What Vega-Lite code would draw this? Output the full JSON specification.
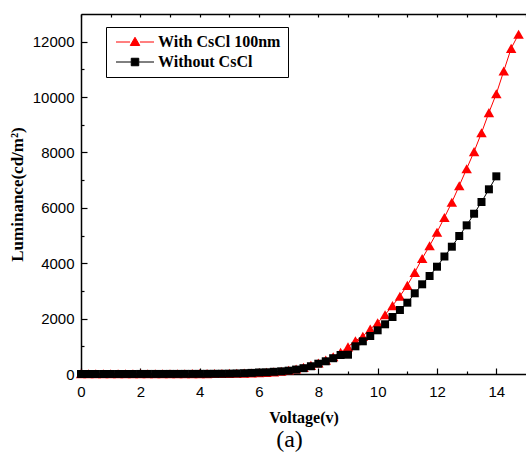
{
  "$schema": "https://vega.github.io/schema/vega-lite/v6.json",
  "width": 445,
  "height": 360,
  "autosize": {"type": "none"},
  "padding": {"left": 81, "top": 14, "right": 0, "bottom": 84},
  "background": "white",
  "config": {
    "view": {"stroke": null},
    "axis": {"domainColor": "black", "tickColor": "black", "domainWidth": 1.5, "tickWidth": 1.2, "labelFont": "Liberation Sans", "labelFontSize": 15, "labelColor": "black", "labelFlush": false, "format": "d", "grid": false, "titleFont": "Liberation Serif", "titleFontWeight": "bold", "titleColor": "black"},
    "legend": {"orient": "none", "legendX": 25, "legendY": 13, "padding": 7, "strokeColor": "black", "fillColor": "white",
      "labelFont": "Liberation Serif", "labelFontWeight": "bold", "labelFontSize": 16, "labelColor": "black", "labelOffset": 15,
      "symbolSize": 100, "symbolOffset": 14, "rowPadding": 4, "symbolOpacity": 1, "symbolStrokeWidth": 1}
  },
  "title": {"text": "(a)", "orient": "bottom", "font": "Liberation Serif", "fontSize": 24, "fontWeight": "normal", "color": "black", "offset": 3, "dx": -14},
  "data": {"values": [
    {"v": 0.0, "L": 10, "s": "With CsCl 100nm"}, {"v": 0.25, "L": 10, "s": "With CsCl 100nm"}, {"v": 0.5, "L": 10, "s": "With CsCl 100nm"}, {"v": 0.75, "L": 10, "s": "With CsCl 100nm"},
    {"v": 1.0, "L": 10, "s": "With CsCl 100nm"}, {"v": 1.25, "L": 10, "s": "With CsCl 100nm"}, {"v": 1.5, "L": 10, "s": "With CsCl 100nm"}, {"v": 1.75, "L": 10, "s": "With CsCl 100nm"},
    {"v": 2.0, "L": 11, "s": "With CsCl 100nm"}, {"v": 2.25, "L": 11, "s": "With CsCl 100nm"}, {"v": 2.5, "L": 11, "s": "With CsCl 100nm"}, {"v": 2.75, "L": 11, "s": "With CsCl 100nm"},
    {"v": 3.0, "L": 12, "s": "With CsCl 100nm"}, {"v": 3.25, "L": 12, "s": "With CsCl 100nm"}, {"v": 3.5, "L": 12, "s": "With CsCl 100nm"}, {"v": 3.75, "L": 13, "s": "With CsCl 100nm"},
    {"v": 4.0, "L": 14, "s": "With CsCl 100nm"}, {"v": 4.25, "L": 15, "s": "With CsCl 100nm"}, {"v": 4.5, "L": 17, "s": "With CsCl 100nm"}, {"v": 4.75, "L": 19, "s": "With CsCl 100nm"},
    {"v": 5.0, "L": 22, "s": "With CsCl 100nm"}, {"v": 5.25, "L": 26, "s": "With CsCl 100nm"}, {"v": 5.5, "L": 31, "s": "With CsCl 100nm"}, {"v": 5.75, "L": 38, "s": "With CsCl 100nm"},
    {"v": 6.0, "L": 48, "s": "With CsCl 100nm"}, {"v": 6.25, "L": 60, "s": "With CsCl 100nm"}, {"v": 6.5, "L": 78, "s": "With CsCl 100nm"}, {"v": 6.75, "L": 100, "s": "With CsCl 100nm"},
    {"v": 7.0, "L": 135, "s": "With CsCl 100nm"}, {"v": 7.25, "L": 180, "s": "With CsCl 100nm"}, {"v": 7.5, "L": 240, "s": "With CsCl 100nm"}, {"v": 7.75, "L": 310, "s": "With CsCl 100nm"},
    {"v": 8.0, "L": 400, "s": "With CsCl 100nm"}, {"v": 8.25, "L": 500, "s": "With CsCl 100nm"}, {"v": 8.5, "L": 620, "s": "With CsCl 100nm"}, {"v": 8.75, "L": 780, "s": "With CsCl 100nm"},
    {"v": 9.0, "L": 980, "s": "With CsCl 100nm"}, {"v": 9.25, "L": 1200, "s": "With CsCl 100nm"}, {"v": 9.5, "L": 1360, "s": "With CsCl 100nm"}, {"v": 9.75, "L": 1620, "s": "With CsCl 100nm"},
    {"v": 10.0, "L": 1850, "s": "With CsCl 100nm"}, {"v": 10.25, "L": 2140, "s": "With CsCl 100nm"}, {"v": 10.5, "L": 2470, "s": "With CsCl 100nm"}, {"v": 10.75, "L": 2810, "s": "With CsCl 100nm"},
    {"v": 11.0, "L": 3200, "s": "With CsCl 100nm"}, {"v": 11.25, "L": 3670, "s": "With CsCl 100nm"}, {"v": 11.5, "L": 4170, "s": "With CsCl 100nm"}, {"v": 11.75, "L": 4630, "s": "With CsCl 100nm"},
    {"v": 12.0, "L": 5120, "s": "With CsCl 100nm"}, {"v": 12.25, "L": 5650, "s": "With CsCl 100nm"}, {"v": 12.5, "L": 6200, "s": "With CsCl 100nm"}, {"v": 12.75, "L": 6800, "s": "With CsCl 100nm"},
    {"v": 13.0, "L": 7410, "s": "With CsCl 100nm"}, {"v": 13.25, "L": 8030, "s": "With CsCl 100nm"}, {"v": 13.5, "L": 8710, "s": "With CsCl 100nm"}, {"v": 13.75, "L": 9440, "s": "With CsCl 100nm"},
    {"v": 14.0, "L": 10120, "s": "With CsCl 100nm"}, {"v": 14.25, "L": 10940, "s": "With CsCl 100nm"}, {"v": 14.5, "L": 11760, "s": "With CsCl 100nm"}, {"v": 14.75, "L": 12270, "s": "With CsCl 100nm"},
    {"v": 0.0, "L": 0, "s": "Without CsCl"}, {"v": 0.25, "L": 0, "s": "Without CsCl"}, {"v": 0.5, "L": 0, "s": "Without CsCl"}, {"v": 0.75, "L": 0, "s": "Without CsCl"},
    {"v": 1.0, "L": 1, "s": "Without CsCl"}, {"v": 1.25, "L": 1, "s": "Without CsCl"}, {"v": 1.5, "L": 1, "s": "Without CsCl"}, {"v": 1.75, "L": 1, "s": "Without CsCl"},
    {"v": 2.0, "L": 2, "s": "Without CsCl"}, {"v": 2.25, "L": 2, "s": "Without CsCl"}, {"v": 2.5, "L": 2, "s": "Without CsCl"}, {"v": 2.75, "L": 2, "s": "Without CsCl"},
    {"v": 3.0, "L": 3, "s": "Without CsCl"}, {"v": 3.25, "L": 3, "s": "Without CsCl"}, {"v": 3.5, "L": 4, "s": "Without CsCl"}, {"v": 3.75, "L": 4, "s": "Without CsCl"},
    {"v": 4.0, "L": 5, "s": "Without CsCl"}, {"v": 4.25, "L": 6, "s": "Without CsCl"}, {"v": 4.5, "L": 8, "s": "Without CsCl"}, {"v": 4.75, "L": 10, "s": "Without CsCl"},
    {"v": 5.0, "L": 14, "s": "Without CsCl"}, {"v": 5.25, "L": 20, "s": "Without CsCl"}, {"v": 5.5, "L": 30, "s": "Without CsCl"}, {"v": 5.75, "L": 40, "s": "Without CsCl"},
    {"v": 6.0, "L": 55, "s": "Without CsCl"}, {"v": 6.25, "L": 62, "s": "Without CsCl"}, {"v": 6.5, "L": 80, "s": "Without CsCl"}, {"v": 6.75, "L": 97, "s": "Without CsCl"},
    {"v": 7.0, "L": 120, "s": "Without CsCl"}, {"v": 7.25, "L": 160, "s": "Without CsCl"}, {"v": 7.5, "L": 210, "s": "Without CsCl"}, {"v": 7.75, "L": 280, "s": "Without CsCl"},
    {"v": 8.0, "L": 372, "s": "Without CsCl"}, {"v": 8.25, "L": 459, "s": "Without CsCl"}, {"v": 8.5, "L": 570, "s": "Without CsCl"}, {"v": 8.75, "L": 686, "s": "Without CsCl"},
    {"v": 9.0, "L": 697, "s": "Without CsCl"}, {"v": 9.25, "L": 1000, "s": "Without CsCl"}, {"v": 9.5, "L": 1181, "s": "Without CsCl"}, {"v": 9.75, "L": 1372, "s": "Without CsCl"},
    {"v": 10.0, "L": 1578, "s": "Without CsCl"}, {"v": 10.25, "L": 1795, "s": "Without CsCl"}, {"v": 10.5, "L": 2058, "s": "Without CsCl"}, {"v": 10.75, "L": 2311, "s": "Without CsCl"},
    {"v": 11.0, "L": 2575, "s": "Without CsCl"}, {"v": 11.25, "L": 2914, "s": "Without CsCl"}, {"v": 11.5, "L": 3239, "s": "Without CsCl"}, {"v": 11.75, "L": 3539, "s": "Without CsCl"},
    {"v": 12.0, "L": 3875, "s": "Without CsCl"}, {"v": 12.25, "L": 4243, "s": "Without CsCl"}, {"v": 12.5, "L": 4597, "s": "Without CsCl"}, {"v": 12.75, "L": 4983, "s": "Without CsCl"},
    {"v": 13.0, "L": 5369, "s": "Without CsCl"}, {"v": 13.25, "L": 5788, "s": "Without CsCl"}, {"v": 13.5, "L": 6211, "s": "Without CsCl"}, {"v": 13.75, "L": 6669, "s": "Without CsCl"},
    {"v": 14.0, "L": 7138, "s": "Without CsCl"}
  ]},
  "layer": [
    {
      "mark": {"type": "line", "strokeWidth": 1},
      "encoding": {
        "x": {"field": "v", "type": "quantitative", "scale": {"domain": [0, 15], "nice": false},
          "axis": {"orient": "bottom", "values": [0, 2, 4, 6, 8, 10, 12, 14], "tickSize": -6, "labelPadding": 16, "title": "Voltage(v)", "titleFontSize": 16, "titlePadding": 10}},
        "y": {"field": "L", "type": "quantitative", "scale": {"domain": [0, 13000], "nice": false},
          "axis": {"orient": "left", "values": [0, 2000, 4000, 6000, 8000, 10000, 12000], "tickSize": -6, "labelPadding": 13, "title": "Luminance(cd/m²)", "titleFontSize": 17, "titlePadding": 6}},
        "color": {"field": "s", "type": "nominal", "scale": {"domain": ["With CsCl 100nm", "Without CsCl"], "range": ["#ff0000", "#000000"]}, "legend": null},
        "detail": {"field": "s"}
      }
    },
    {
      "mark": {"type": "point", "filled": true, "opacity": 1},
      "encoding": {
        "x": {"field": "v", "type": "quantitative",
          "axis": {"orient": "bottom", "values": [1, 3, 5, 7, 9, 11, 13], "tickSize": -3, "labels": false, "domain": false, "title": null}},
        "y": {"field": "L", "type": "quantitative",
          "axis": {"orient": "left", "values": [1000, 3000, 5000, 7000, 9000, 11000], "tickSize": -3, "labels": false, "domain": false, "title": null}},
        "color": {"field": "s", "type": "nominal", "scale": {"domain": ["With CsCl 100nm", "Without CsCl"], "range": ["#ff0000", "#000000"]}, "legend": null},
        "shape": {"field": "s", "type": "nominal", "scale": {"domain": ["With CsCl 100nm", "Without CsCl"], "range": ["triangle-up", "square"]}, "legend": null},
        "size": {"field": "s", "type": "nominal", "scale": {"domain": ["With CsCl 100nm", "Without CsCl"], "range": [110, 64]}, "legend": null}
      }
    },
    {
      "transform": [{"filter": "datum.v > 100"}],
      "mark": {"type": "point", "filled": true, "opacity": 1},
      "encoding": {
        "x": {"field": "v", "type": "quantitative",
          "axis": {"orient": "top", "values": [0, 1, 2, 3, 4, 5, 6, 7, 8, 9, 10, 11, 12, 13, 14, 15], "tickSize": -3, "labels": false, "title": null}},
        "y": {"field": "L", "type": "quantitative", "axis": null},
        "color": {"field": "s", "type": "nominal", "scale": {"domain": ["With CsCl 100nm", "Without CsCl"], "range": ["#ff0000", "#000000"]}, "legend": {"title": null}},
        "stroke": {"field": "s", "type": "nominal", "scale": {"domain": ["With CsCl 100nm", "Without CsCl"], "range": ["#ff0000", "#000000"]}, "legend": {"title": null}},
        "shape": {"field": "s", "type": "nominal", "scale": {"domain": ["With CsCl 100nm", "Without CsCl"], "range": ["M-3.8,0L-1,0M1,0L3.8,0M0,-0.95L0.95,0.7L-0.95,0.7Z", "M-3.8,0L-0.8,0M0.8,0L3.8,0M-0.75,-0.75L0.75,-0.75L0.75,0.75L-0.75,0.75Z"]}, "legend": {"title": null}}
      }
    }
  ],
  "resolve": {"axis": {"x": "independent", "y": "independent"}, "scale": {"shape": "independent"}, "legend": {"shape": "independent", "color": "independent", "stroke": "independent"}}
}
